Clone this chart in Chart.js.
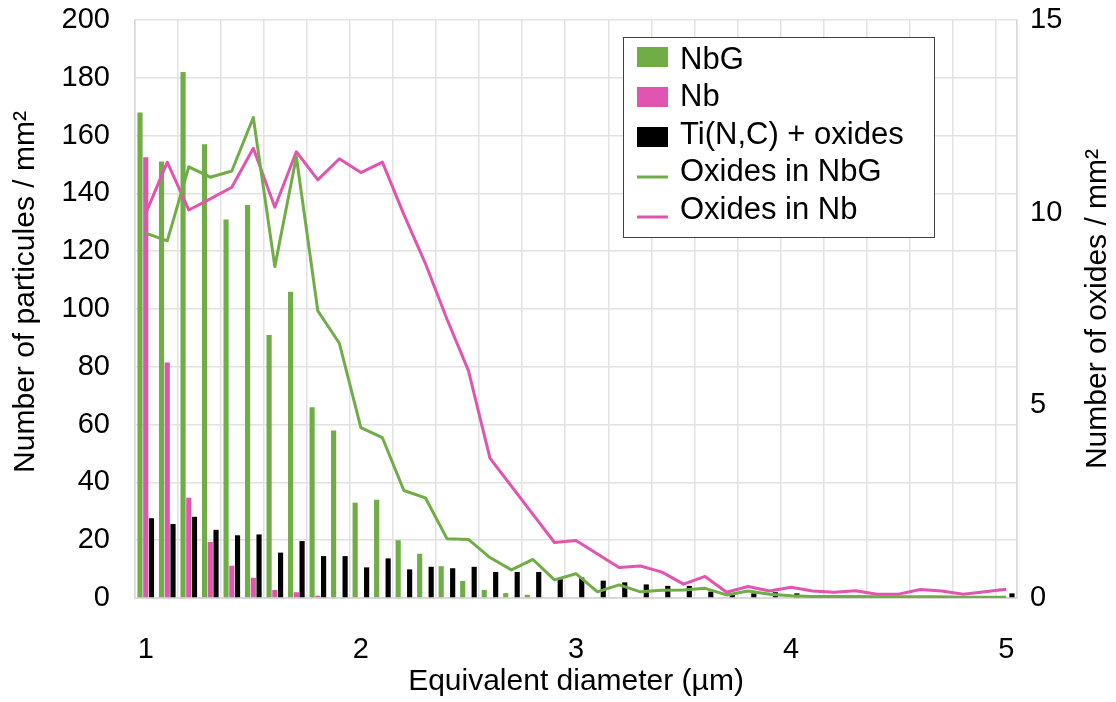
<!DOCTYPE html>
<html>
<head>
<meta charset="utf-8">
<script src="https://cdn.jsdelivr.net/npm/chart.js@4.4.0/dist/chart.umd.min.js"></script>
<style>
  html, body { margin: 0; padding: 0; background: #fff; }
  #wrap { width: 1116px; height: 702px; position: relative; }
</style>
</head>
<body>
<div id="wrap"><canvas id="chart"></canvas></div>
<script>
const categories = [
  '1.0','1.1','1.2','1.3','1.4','1.5','1.6','1.7','1.8','1.9',
  '2.0','2.1','2.2','2.3','2.4','2.5','2.6','2.7','2.8','2.9',
  '3.0','3.1','3.2','3.3','3.4','3.5','3.6','3.7','3.8','3.9',
  '4.0','4.1','4.2','4.3','4.4','4.5','4.6','4.7','4.8','4.9',
  '5.0'
];
const xTickLabels = ['1', '2', '3', '4', '5'];
const leftTicks = [0, 20, 40, 60, 80, 100, 120, 140, 160, 180, 200];
const rightTicks = [0, 5, 10, 15];

// particles / mm² (left axis)
const nbG = [168, 151, 182, 157, 131, 136, 91, 106, 66, 58,
             33, 34, 20, 15.3, 11, 5.9, 2.8, 1.7, 1.1, 0,
             0, 0, 0, 0, 0, 0, 0, 0, 0, 0,
             0, 0, 0, 0, 0, 0, 0, 0, 0, 0, 0];
const nb = [152.5, 81.5, 34.7, 19.4, 11.2, 7.0, 2.8, 2.0, 0.8, 0,
            0, 0, 0, 0, 0, 0, 0, 0, 0, 0,
            0, 0, 0, 0, 0, 0, 0, 0, 0, 0,
            0, 0, 0, 0, 0, 0, 0, 0, 0, 0, 0];
const tiNC = [27.6, 25.6, 28.1, 23.6, 21.7, 22.0, 15.7, 19.7, 14.5, 14.5,
              10.6, 13.7, 9.9, 10.8, 10.3, 10.8, 9.0, 9.0, 9.0, 6.5,
              7.1, 6.0, 5.4, 4.7, 4.2, 4.2, 2.2, 1.3, 1.6, 2.0,
              1.6, 1.0, 0.7, 0.3, 0, 0, 0, 0, 0, 0, 1.6];

// oxides / mm² (right axis)
const oxNbG = [9.47, 9.27, 11.19, 10.92, 11.08, 12.47, 8.60, 11.45, 7.45, 6.61,
               4.42, 4.16, 2.79, 2.60, 1.54, 1.52, 1.05, 0.73, 1.0, 0.47,
               0.63, 0.16, 0.34, 0.16, 0.2, 0.21, 0.25, 0.08, 0.18, 0.1,
               0.06, 0.04, 0.04, 0.04, 0.03, 0.03, 0.03, 0.03, 0.02, 0.02, 0.02];
const oxNb = [9.98, 11.31, 10.07, 10.36, 10.66, 11.67, 10.14, 11.58, 10.85, 11.40,
              11.04, 11.31, 9.95, 8.68, 7.24, 5.9, 3.63, 2.9, 2.17, 1.44,
              1.49, 1.14, 0.79, 0.83, 0.67, 0.36, 0.56, 0.15, 0.3, 0.18,
              0.28, 0.18, 0.15, 0.19, 0.1, 0.1, 0.22, 0.18, 0.1, 0.16, 0.23];

const green = '#70ad47';
const pink = '#e155b1';
const gridColor = '#e2e2e2';
const axisColor = '#d9d9d9';
const clear = 'rgba(0,0,0,0)';
const fontFamily = "'Liberation Sans', Arial, sans-serif";

Chart.defaults.font.family = fontFamily;
Chart.defaults.color = '#000';

function vTitle(ctx, text, x, y) {
  ctx.save();
  ctx.translate(x, y);
  ctx.rotate(-Math.PI / 2);
  ctx.textAlign = 'center';
  ctx.textBaseline = 'middle';
  ctx.fillText(text, 0, 0);
  ctx.restore();
}

// boxed legend inside the plot + the two vertical axis titles
const boxLegend = {
  id: 'boxLegend',
  afterDraw(chart) {
    const { ctx, chartArea } = chart;
    const x0 = chartArea.left + 488, y0 = chartArea.top + 17;
    ctx.save();
    ctx.fillStyle = '#fff';
    ctx.fillRect(x0, y0, 311, 200);
    ctx.strokeStyle = '#404040';
    ctx.lineWidth = 1;
    ctx.strokeRect(x0 + 0.5, y0 + 0.5, 311, 200);
    ctx.font = '31px ' + fontFamily;
    ctx.textBaseline = 'middle';
    ctx.textAlign = 'left';
    chart.data.datasets.forEach((ds, i) => {
      const my = y0 + 20 + 40 * i;
      const ty = y0 + 23 + 37.5 * i;
      if (ds.type === 'line') {
        ctx.strokeStyle = ds.borderColor;
        ctx.lineWidth = 3;
        ctx.beginPath();
        ctx.moveTo(x0 + 14, my);
        ctx.lineTo(x0 + 45, my);
        ctx.stroke();
      } else {
        ctx.fillStyle = ds.backgroundColor;
        ctx.fillRect(x0 + 14, my - 10, 31, 20);
      }
      ctx.fillStyle = '#000';
      ctx.fillText(ds.label, x0 + 57, ty);
    });
    ctx.font = '30px ' + fontFamily;
    vTitle(ctx, 'Number of particules / mm²', 26, 292);
    vTitle(ctx, 'Number of oxides / mm²', 1098, (chartArea.top + chartArea.bottom) / 2);
    ctx.restore();
  }
};

new Chart(document.getElementById('chart'), {
  data: {
    labels: categories,
    datasets: [
      { type: 'bar', label: 'NbG', data: nbG, backgroundColor: green, yAxisID: 'y', order: 1 },
      { type: 'bar', label: 'Nb', data: nb, backgroundColor: pink, yAxisID: 'y', order: 1 },
      { type: 'bar', label: 'Ti(N,C) + oxides', data: tiNC, backgroundColor: '#000', yAxisID: 'y', order: 1 },
      { type: 'line', label: 'Oxides in NbG', data: oxNbG, borderColor: green, borderWidth: 3,
        pointRadius: 0, tension: 0, yAxisID: 'y2', order: 0, borderJoinStyle: 'round' },
      { type: 'line', label: 'Oxides in Nb', data: oxNb, borderColor: pink, borderWidth: 3,
        pointRadius: 0, tension: 0, yAxisID: 'y2', order: 0, borderJoinStyle: 'round' }
    ]
  },
  options: {
    responsive: true,
    maintainAspectRatio: false,
    animation: false,
    layout: { padding: { top: 20, left: 0, right: 0, bottom: 0 } },
    plugins: {
      legend: { display: false },
      tooltip: { enabled: false }
    },
    scales: {
      x: {
        type: 'category',
        offset: true,
        afterFit: s => { s.height = 104; },
        grid: {
          offset: true,
          drawTicks: false,
          lineWidth: 1.5,
          color: c => (c.index === undefined || c.index % 2 === 0) ? gridColor : clear
        },
        border: { color: axisColor, width: 2 },
        ticks: {
          autoSkip: false,
          maxRotation: 0,
          padding: 35,
          font: { size: 29 },
          callback: function (v, i) {
            const c = categories[i];
            const lbl = String(parseFloat(c));
            return c.endsWith('.0') && xTickLabels.includes(lbl) ? lbl : '';
          }
        },
        title: {
          display: true,
          text: 'Equivalent diameter (µm)',
          font: { size: 30 },
          padding: { top: 0, bottom: 2 }
        }
      },
      y: {
        position: 'left',
        min: leftTicks[0],
        max: leftTicks[leftTicks.length - 1],
        afterFit: s => { s.width = 135; },
        grid: { color: gridColor, lineWidth: 1.5, drawTicks: true, tickLength: 25, tickColor: clear },
        border: { color: axisColor, width: 1.5 },
        ticks: {
          stepSize: 20,
          padding: 0,
          font: { size: 29 },
          callback: v => leftTicks.includes(v) ? v : ''
        }
      },
      y2: {
        position: 'right',
        min: rightTicks[0],
        max: rightTicks[rightTicks.length - 1],
        afterFit: s => { s.width = 99; },
        grid: { display: false, drawOnChartArea: false, drawTicks: true, tickLength: 13, tickColor: clear },
        border: { color: axisColor, width: 1.5 },
        ticks: {
          stepSize: 5,
          padding: 0,
          font: { size: 29 },
          callback: v => rightTicks.includes(v) ? v : ''
        }
      }
    }
  },
  plugins: [boxLegend]
});
</script>
</body>
</html>
